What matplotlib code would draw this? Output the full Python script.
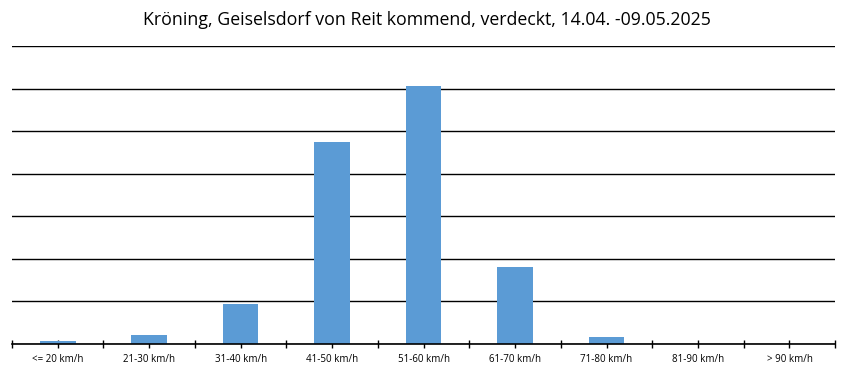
import matplotlib.pyplot as plt
import numpy as np

plt.rcParams["font.family"] = ["Open Sans", "DejaVu Sans"]

categories = ["<= 20 km/h", "21-30 km/h", "31-40 km/h", "41-50 km/h", "51-60 km/h",
              "61-70 km/h", "71-80 km/h", "81-90 km/h", "> 90 km/h"]
counts = [35, 105, 470, 2370, 3030, 905, 80, 0, 0]
grid_step = 500
y_max = 3500

fig = plt.figure(figsize=(8.54, 3.78), dpi=100)
ax = fig.add_axes([0.014, 0.090, 0.964, 0.788])

x = np.arange(len(categories))
ax.bar(x, counts, width=0.39, color="#5B9BD5", zorder=2)

ax.set_xlim(-0.5, len(categories) - 0.5)
ax.set_ylim(0, y_max)
ax.set_yticks(np.arange(0, y_max + 1, grid_step))
ax.yaxis.grid(True, color="black", linewidth=1.0, zorder=1)
ax.tick_params(axis="y", left=False, labelleft=False)

ax.set_xticks(x)
ax.set_xticklabels(categories, fontsize=7)
ax.set_xticks(np.arange(-0.5, len(categories)), minor=True)
ax.tick_params(axis="x", which="both", direction="inout", length=5.5, width=1.0, color="black", pad=4.5)

for side in ["top", "right", "left"]:
    ax.spines[side].set_visible(False)
ax.spines["bottom"].set_linewidth(1.2)
ax.spines["bottom"].set_zorder(3)

fig.text(0.5, 0.947, "Kröning, Geiselsdorf von Reit kommend, verdeckt, 14.04. -09.05.2025",
         ha="center", va="center", fontsize=12.8)

fig.savefig("out.png", dpi=100)
